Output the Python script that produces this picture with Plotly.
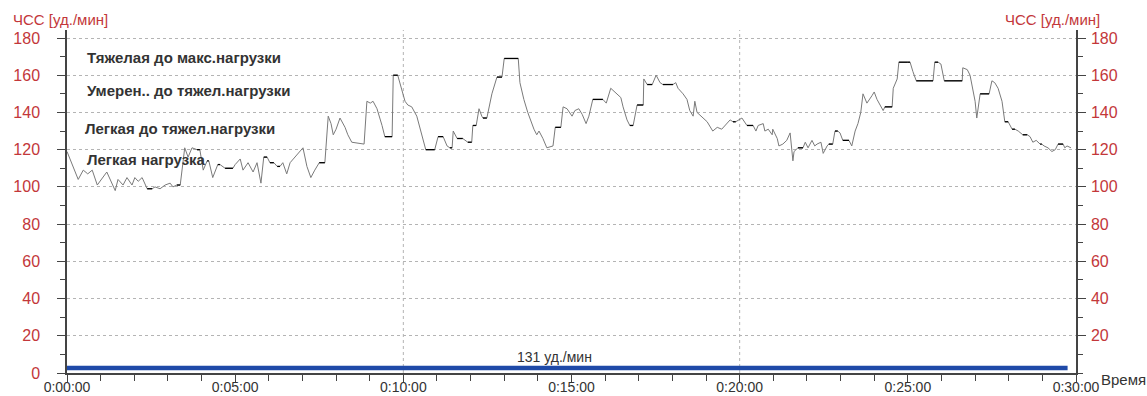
import plotly.graph_objects as go

# ---- data ----
time_s = [0, 20, 29, 37, 45, 54, 71, 86, 91, 100, 107, 116, 121, 127, 134, 143, 152, 157, 166, 175,
          184, 189, 196, 202, 210, 216, 223, 232, 237, 243, 250, 253, 260, 269, 273, 282, 296,
          300, 309, 314, 323, 332, 339, 346, 351, 357, 362, 369, 375, 380, 385, 392, 398, 407, 416,
          421, 428, 435, 442, 450, 460, 466, 471, 475, 480, 487, 496, 501, 508, 530, 535, 541, 546,
          553, 562, 567, 580, 582, 590, 596, 599, 603, 608, 615, 624, 630, 640, 656, 662, 671, 678,
          683, 687, 689, 696, 706, 715, 722, 724, 730, 735, 740, 742, 749, 758, 767, 776, 780, 805,
          808, 815, 822, 830, 833, 838, 842, 849, 856, 867, 871, 881, 885, 892, 901, 906, 913, 919,
          926, 931, 938, 956, 962, 970, 981, 988, 992, 999, 1004, 1010, 1017, 1028, 1029, 1035, 1044,
          1051, 1058, 1063, 1081, 1086, 1090, 1099, 1106, 1111, 1117, 1120, 1124, 1131, 1142, 1152,
          1160, 1168, 1176, 1183, 1188, 1193, 1204, 1208, 1213, 1224, 1229, 1233, 1242, 1245, 1251,
          1258, 1259, 1267, 1270, 1277, 1284, 1290, 1295, 1297, 1304, 1313, 1317, 1322, 1329, 1334,
          1338, 1345, 1349, 1356, 1359, 1366, 1370, 1375, 1379, 1384, 1395, 1400, 1406, 1411, 1416,
          1420, 1427, 1436, 1440, 1445, 1450, 1456, 1459, 1472, 1474, 1479, 1481, 1484, 1500, 1504,
          1509, 1515, 1545, 1548, 1554, 1559, 1565, 1597, 1598, 1606, 1611, 1616, 1620, 1623, 1629,
          1645, 1650, 1655, 1661, 1668, 1673, 1679, 1686, 1691, 1697, 1705, 1713, 1718, 1723, 1729,
          1736, 1739, 1743, 1750, 1757, 1763, 1768, 1777, 1780, 1784, 1791]
hr_bpm = [119, 104, 109, 107, 109, 101, 108, 98, 104, 101, 105, 101, 105, 103, 105, 99, 99, 100, 99, 101,
          102, 100, 101, 101, 121, 116, 121, 120, 120, 109, 114, 114, 105, 112, 112, 110, 110,
          112, 115, 109, 113, 108, 113, 102, 116, 116, 113, 113, 111, 111, 113, 107, 113, 116, 119,
          121, 111, 105, 109, 113, 113, 138, 134, 128, 131, 137, 132, 128, 124, 123, 146, 145, 146,
          142, 133, 127, 127, 160, 160, 154, 151, 146, 144, 143, 138, 131, 120, 120, 127, 127, 122,
          121, 121, 130, 126, 126, 124, 124, 133, 133, 142, 138, 137, 137, 150, 159, 159, 169, 169,
          156, 147, 140, 133, 131, 128, 130, 126, 121, 122, 132, 132, 143, 142, 138, 141, 142, 139,
          134, 138, 147, 147, 145, 153, 150, 148, 143, 136, 133, 133, 144, 144, 158, 155, 155,
          160, 156, 155, 155, 156, 153, 150, 147, 141, 138, 146, 140, 138, 135, 130,
          132, 131, 134, 136, 135, 135, 137, 135, 133, 133, 130, 133, 134, 130, 131,
          128, 131, 126, 122, 123, 125, 129, 114, 119, 121, 121, 124, 121, 125, 122,
          123, 124, 118, 122, 123, 123, 130, 130, 129, 125, 125, 122, 130, 134, 140,
          150, 145, 149, 151, 147, 144, 141, 143, 143, 153, 156, 158, 167, 167, 167,
          162, 157, 157, 167, 167, 166, 157, 157, 164, 163, 160, 153, 146, 137, 150,
          150, 157, 156, 153, 146, 135, 135, 131, 131, 130, 128, 128, 127, 124, 125,
          123, 123, 122, 121, 119, 120, 123, 123, 121, 122, 121]

avg_label = "131 уд./мин"
avg_level = 2.7
avg_start, avg_end = 0, 1785
zone_labels = ["Тяжелая до макс.нагрузки", "Умерен.. до тяжел.нагрузки",
               "Легкая до тяжел.нагрузки", "Легкая нагрузка"]
zone_label_y = [169.5, 152, 131.5, 114.5]
zone_label_x = [32, 32, 28, 32]
x_tick_vals = [0, 300, 600, 900, 1200, 1500, 1800]
x_tick_text = ["0:00:00", "0:05:00", "0:10:00", "0:15:00", "0:20:00", "0:25:00", "0:30:00"]
y_ticks_left = [0, 20, 40, 60, 80, 100, 120, 140, 160, 180]
y_ticks_right = [20, 40, 60, 80, 100, 120, 140, 160, 180]

RED = "#c3373a"
DARK = "#333333"
GRID = "#b4b4b4"
FONT = "Liberation Sans, Arial"

fig = go.Figure()

# main HR line (gray)
fig.add_trace(go.Scatter(x=time_s, y=hr_bpm, mode="lines",
                         line=dict(color="#7a7a7a", width=1), hoverinfo="skip", showlegend=False))
# flat (held) segments in black
fx, fy = [], []
for i in range(len(hr_bpm) - 1):
    if hr_bpm[i] == hr_bpm[i + 1]:
        fx += [time_s[i], time_s[i + 1], None]
        fy += [hr_bpm[i], hr_bpm[i + 1], None]
fig.add_trace(go.Scatter(x=fx, y=fy, mode="lines",
                         line=dict(color="#000000", width=1.3), hoverinfo="skip", showlegend=False))
# average line
fig.add_trace(go.Scatter(x=[avg_start, avg_end], y=[avg_level, avg_level], mode="lines",
                         line=dict(color="#1f4aa8", width=4.5), hoverinfo="skip", showlegend=False))
# dummy for right axis
fig.add_trace(go.Scatter(x=[None], y=[None], yaxis="y2", showlegend=False))

for i, t in enumerate(zone_labels):
    fig.add_annotation(x=zone_label_x[i], y=zone_label_y[i], xref="x", yref="y", text=t,
                       showarrow=False, xanchor="left", yanchor="middle",
                       font=dict(family=FONT, size=15, color=DARK, weight="bold"))

fig.add_annotation(x=870, y=avg_level, xref="x", yref="y", text=avg_label,
                   showarrow=False, yanchor="bottom", yshift=1,
                   font=dict(family=FONT, size=14, color=DARK))

fig.add_annotation(x=0, y=1, xref="paper", yref="paper", text="ЧСС [уд./мин]", showarrow=False,
                   xanchor="center", yanchor="bottom", xshift=-7, yshift=0,
                   font=dict(family=FONT, size=15, color=RED))
fig.add_annotation(x=1, y=1, xref="paper", yref="paper", text="ЧСС [уд./мин]", showarrow=False,
                   xanchor="center", yanchor="bottom", xshift=-24, yshift=0,
                   font=dict(family=FONT, size=15, color=RED))
fig.add_annotation(x=1, y=0, xref="paper", yref="paper", text="Время", showarrow=False,
                   xanchor="left", yanchor="middle", xshift=23, yshift=-6,
                   font=dict(family=FONT, size=15, color=DARK))

def yaxis_style(standoff, ticks):
    return dict(range=[0, 184.3], tickvals=ticks, ticks="outside", ticklen=8, tickcolor="#444",
                showline=True, linecolor="#444", linewidth=1.5, automargin=False,
                ticklabelstandoff=standoff,
                tickfont=dict(family=FONT, size=16, color=RED),
                minor=dict(dtick=10, tick0=0, ticks="outside", ticklen=5, tickcolor="#444",
                           showgrid=False),
                zeroline=False, fixedrange=True)

fig.update_layout(
    width=1147, height=396,
    margin=dict(l=67, r=71, t=30, b=23),
    plot_bgcolor="white", paper_bgcolor="white",
    xaxis=dict(range=[0, 1800], tickvals=x_tick_vals, ticktext=x_tick_text, automargin=False,
               ticks="outside", ticklen=7, tickcolor="#444", showline=True, linecolor="#444",
               linewidth=1.5, showgrid=False, zeroline=False, ticklabelstandoff=-7,
               tickfont=dict(family=FONT, size=14, color=DARK),
               minor=dict(dtick=60, tick0=0, ticks="outside", ticklen=6, tickcolor="#444")),
    yaxis=dict(**yaxis_style(14, y_ticks_left), showgrid=True, gridcolor=GRID, griddash="dot",
               gridwidth=1),
    yaxis2=dict(**yaxis_style(2, y_ticks_right), overlaying="y", side="right", showgrid=False),
    shapes=[dict(type="line", xref="x", yref="paper", x0=v, x1=v, y0=0, y1=1,
                 line=dict(color=GRID, width=1, dash="dot"), layer="below") for v in [600, 1200]],
)

fig.write_html("out.html")
